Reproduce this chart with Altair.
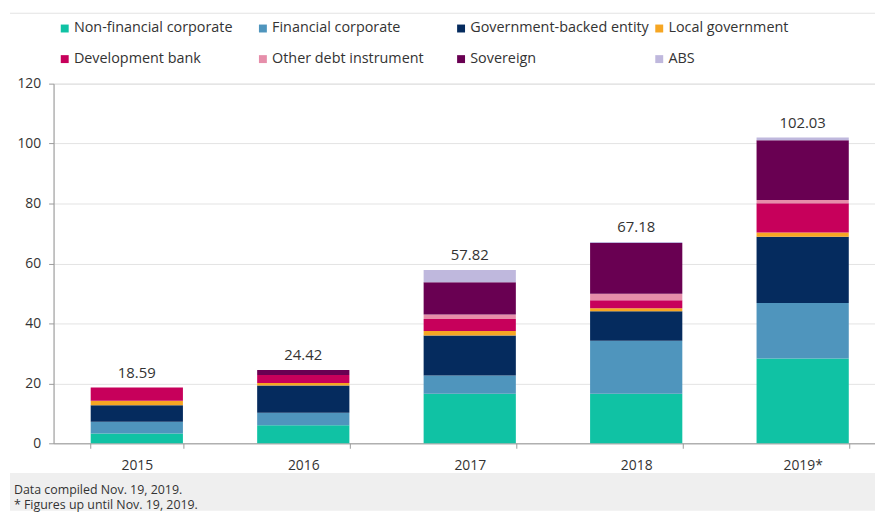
import altair as alt
import pandas as pd

years = ["2015", "2016", "2017", "2018", "2019*"]
categories = [
    "Non-financial corporate",
    "Financial corporate",
    "Government-backed entity",
    "Local government",
    "Development bank",
    "Other debt instrument",
    "Sovereign",
    "ABS",
]
colors = ["#10c2a4", "#4f95bd", "#052b5e", "#f6a623", "#c7005b", "#e68eaa", "#690052", "#bfb8dd"]

non_financial = [3.3, 6.0, 16.5, 16.5, 28.3]
financial = [3.9, 4.2, 6.1, 17.7, 18.5]
gov_backed = [5.5, 9.1, 13.4, 9.9, 22.1]
local_gov = [1.5, 0.8, 1.5, 1.0, 1.4]
dev_bank = [4.39, 2.7, 4.0, 2.6, 9.8]
other_debt = [0.0, 0.0, 1.5, 2.2, 1.1]
sovereign = [0.0, 1.62, 10.7, 16.9, 19.9]
abs_ = [0.0, 0.0, 4.12, 0.38, 0.93]
totals = [18.59, 24.42, 57.82, 67.18, 102.03]
notes = ["Data compiled Nov. 19, 2019.", "* Figures up until Nov. 19, 2019."]

series = [non_financial, financial, gov_backed, local_gov, dev_bank, other_debt, sovereign, abs_]
rows = []
for ci, (cat, vals) in enumerate(zip(categories, series)):
    for y, v in zip(years, vals):
        rows.append({"year": y, "category": cat, "value": v, "idx": ci})
df = pd.DataFrame(rows)
df_tot = pd.DataFrame({"year": years, "total": totals})

FONT = "Open Sans"
TXT = "#333333"

xscale = alt.Scale(domain=years, paddingInner=0.446, paddingOuter=0.223)
yscale = alt.Scale(domain=[0, 120])

bars = alt.Chart(df).mark_bar().encode(
    x=alt.X("year:N", scale=xscale, sort=years, title=None,
            axis=alt.Axis(labelAngle=0, tickBand="extent", domainColor="#9a9a9a", tickColor="#9a9a9a",
                          tickSize=5, labelFontSize=14, labelColor=TXT, labelFont=FONT, labelPadding=10)),
    y=alt.Y("value:Q", scale=yscale, stack="zero", title=None,
            axis=alt.Axis(values=[0, 20, 40, 60, 80, 100, 120], domainColor="#9a9a9a", tickColor="#9a9a9a",
                          tickSize=5, labelFontSize=14, labelColor=TXT, labelFont=FONT, labelPadding=8,
                          gridColor="#e3e3e3", grid=True)),
    color=alt.Color("category:N", scale=alt.Scale(domain=categories, range=colors), title=None,
                    legend=alt.Legend(orient="none", legendX=4, legendY=-63, direction="horizontal",
                                      columns=4, gridAlign="all", symbolType="square", symbolSize=64,
                                      symbolStrokeWidth=0, labelFontSize=14.5, labelFont=FONT, labelColor=TXT,
                                      labelOffset=2, rowPadding=16, columnPadding=3, padding=0,
                                      labelLimit=400)),
    order=alt.Order("idx:Q", sort="ascending"),
)

labels = alt.Chart(df_tot).mark_text(baseline="bottom", dy=-7, fontSize=15, font=FONT, color=TXT).encode(
    x=alt.X("year:N", scale=xscale, sort=years),
    y=alt.Y("total:Q", scale=yscale),
    text=alt.Text("total:Q", format=".2f"),
)

top_rule = alt.Chart(pd.DataFrame({"k": [0]})).mark_rule(color="#e3e3e3", strokeWidth=1).encode(
    x=alt.value(-44), x2=alt.value(829), y=alt.value(-71)
)
footer_bg = alt.Chart(pd.DataFrame({"k": [0]})).mark_rect(color="#efefef").encode(
    x=alt.value(-44), x2=alt.value(829), y=alt.value(393), y2=alt.value(431)
)
note1 = alt.Chart(pd.DataFrame({"note": [notes[0]]})).mark_text(
    align="left", baseline="middle", fontSize=12.5, font=FONT, color=TXT
).encode(x=alt.value(-40), y=alt.value(410), text="note:N")
note2 = alt.Chart(pd.DataFrame({"note": [notes[1]]})).mark_text(
    align="left", baseline="middle", fontSize=12.5, font=FONT, color=TXT
).encode(x=alt.value(-40), y=alt.value(425.5), text="note:N")

chart = alt.layer(top_rule, footer_bg, bars, labels, note1, note2).properties(
    width=840, height=363,
    autosize=alt.AutoSizeParams(type="none"),
    padding={"left": 46, "top": 74, "right": -11, "bottom": 68},
).configure_view(stroke=None).configure(background="white")

chart.save("out.html", embed_options={"renderer": "svg", "actions": False})
